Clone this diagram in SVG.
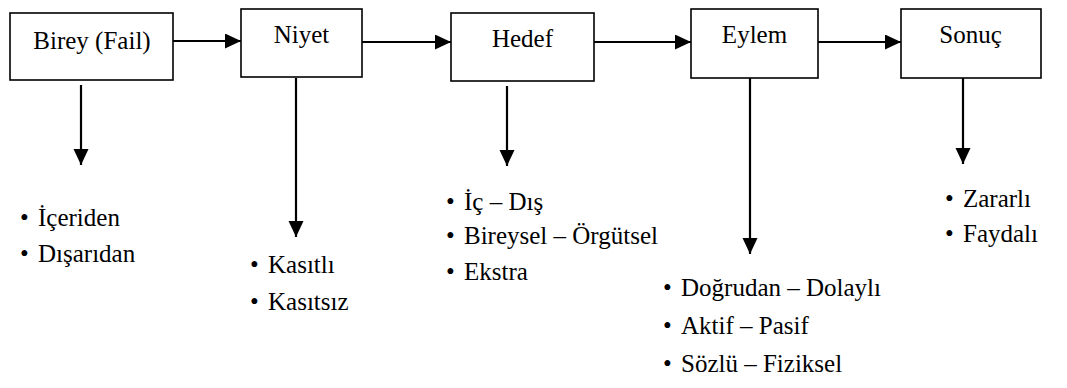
<svg xmlns="http://www.w3.org/2000/svg" width="1067" height="388" viewBox="0 0 1067 388">
<defs>
<marker id="ah" markerUnits="userSpaceOnUse" markerWidth="16" markerHeight="16" refX="16" refY="7.5" orient="auto">
<path d="M0,0 L16,7.5 L0,15 z" fill="#000"/>
</marker>
</defs>
<rect width="1067" height="388" fill="#fff"/>
<g id="connectors" stroke="#000" stroke-width="2.2" fill="none">
<line x1="173" y1="41" x2="241" y2="41" marker-end="url(#ah)"/>
<line x1="362" y1="42" x2="451" y2="42" marker-end="url(#ah)"/>
<line x1="594" y1="42" x2="691" y2="42" marker-end="url(#ah)"/>
<line x1="818" y1="42" x2="901" y2="42" marker-end="url(#ah)"/>
<line x1="81" y1="85" x2="81" y2="165" marker-end="url(#ah)"/>
<line x1="296" y1="78" x2="296" y2="237" marker-end="url(#ah)"/>
<line x1="507" y1="86" x2="507" y2="166" marker-end="url(#ah)"/>
<line x1="750" y1="78" x2="750" y2="254" marker-end="url(#ah)"/>
<line x1="963" y1="78" x2="963" y2="164" marker-end="url(#ah)"/>
</g>
<g id="birey">
<rect x="10" y="13" width="163" height="67" fill="#fff" stroke="#000" stroke-width="1.6"/>
<text font-family="Times New Roman" font-size="25" text-anchor="middle" x="92" y="49">Birey (Fail)</text>
</g>
<g id="niyet">
<rect x="241" y="9" width="121" height="68" fill="#fff" stroke="#000" stroke-width="1.6"/>
<text font-family="Times New Roman" font-size="25" text-anchor="middle" x="301.5" y="43">Niyet</text>
</g>
<g id="hedef">
<rect x="451" y="13" width="143" height="68" fill="#fff" stroke="#000" stroke-width="1.6"/>
<text font-family="Times New Roman" font-size="25" text-anchor="middle" x="522.5" y="47">Hedef</text>
</g>
<g id="eylem">
<rect x="691" y="9" width="127" height="69" fill="#fff" stroke="#000" stroke-width="1.6"/>
<text font-family="Times New Roman" font-size="25" text-anchor="middle" x="754.5" y="43">Eylem</text>
</g>
<g id="sonuc">
<rect x="901" y="9" width="140" height="69" fill="#fff" stroke="#000" stroke-width="1.6"/>
<text font-family="Times New Roman" font-size="25" text-anchor="middle" x="970.5" y="43">Sonuç</text>
</g>
<g id="list-birey" font-family="Times New Roman" font-size="25">
<text font-family="Times New Roman" x="20" y="226">•</text><text font-family="Times New Roman" x="38" y="226">İçeriden</text>
<text font-family="Times New Roman" x="20" y="262">•</text><text font-family="Times New Roman" x="38" y="262">Dışarıdan</text>
</g>
<g id="list-niyet" font-family="Times New Roman" font-size="25">
<text font-family="Times New Roman" x="250" y="273">•</text><text font-family="Times New Roman" x="268" y="273">Kasıtlı</text>
<text font-family="Times New Roman" x="250" y="310">•</text><text font-family="Times New Roman" x="268" y="310">Kasıtsız</text>
</g>
<g id="list-hedef" font-family="Times New Roman" font-size="25">
<text font-family="Times New Roman" x="446" y="210">•</text><text font-family="Times New Roman" x="464" y="210">İç – Dış</text>
<text font-family="Times New Roman" x="446" y="244">•</text><text font-family="Times New Roman" x="464" y="244">Bireysel – Örgütsel</text>
<text font-family="Times New Roman" x="446" y="280">•</text><text font-family="Times New Roman" x="464" y="280">Ekstra</text>
</g>
<g id="list-eylem" font-family="Times New Roman" font-size="25">
<text font-family="Times New Roman" x="663" y="296">•</text><text font-family="Times New Roman" x="681" y="296">Doğrudan – Dolaylı</text>
<text font-family="Times New Roman" x="663" y="334">•</text><text font-family="Times New Roman" x="681" y="334">Aktif – Pasif</text>
<text font-family="Times New Roman" x="663" y="372">•</text><text font-family="Times New Roman" x="681" y="372">Sözlü – Fiziksel</text>
</g>
<g id="list-sonuc" font-family="Times New Roman" font-size="25">
<text font-family="Times New Roman" x="945" y="207">•</text><text font-family="Times New Roman" x="963" y="207">Zararlı</text>
<text font-family="Times New Roman" x="945" y="242">•</text><text font-family="Times New Roman" x="963" y="242">Faydalı</text>
</g>
</svg>
